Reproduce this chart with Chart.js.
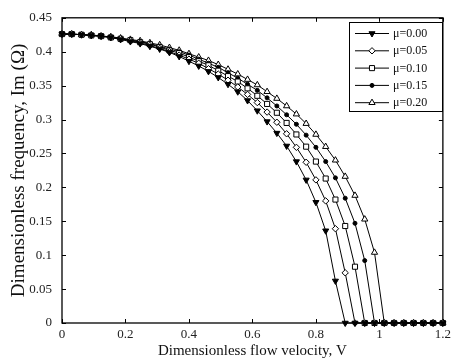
<!DOCTYPE html>
<html>
<head>
<meta charset="utf-8">
<script src="https://cdn.jsdelivr.net/npm/chart.js"></script>
<style>
  html, body { margin: 0; padding: 0; background: #fff; }
  canvas { display: block; }
</style>
</head>
<body>
<canvas id="chart" width="455" height="362"></canvas>
<script>
// flow velocity grid (40 points from 0 to 1.2)
const velocity = [0, 0.0308, 0.0615, 0.0923, 0.1231, 0.1538, 0.1846, 0.2154, 0.2462, 0.2769,
  0.3077, 0.3385, 0.3692, 0.4, 0.4308, 0.4615, 0.4923, 0.5231, 0.5538, 0.5846,
  0.6154, 0.6462, 0.6769, 0.7077, 0.7385, 0.7692, 0.8, 0.8308, 0.8615, 0.8923,
  0.9231, 0.9538, 0.9846, 1.0154, 1.0462, 1.0769, 1.1077, 1.1385, 1.1692, 1.2];

const mu000 = [0.426, 0.426, 0.425, 0.424, 0.423, 0.421, 0.418, 0.415, 0.412, 0.408,
  0.404, 0.399, 0.393, 0.386, 0.379, 0.371, 0.362, 0.352, 0.341, 0.328,
  0.313, 0.297, 0.280, 0.261, 0.238, 0.211, 0.178, 0.136, 0.062, 0,
  0, 0, 0, 0, 0, 0, 0, 0, 0, 0];
const mu005 = [0.426, 0.426, 0.425, 0.424, 0.423, 0.421, 0.419, 0.416, 0.413, 0.409,
  0.405, 0.400, 0.395, 0.389, 0.383, 0.375, 0.367, 0.358, 0.348, 0.337,
  0.325, 0.311, 0.296, 0.279, 0.259, 0.237, 0.211, 0.180, 0.139, 0.074,
  0, 0, 0, 0, 0, 0, 0, 0, 0, 0];
const mu010 = [0.426, 0.426, 0.425, 0.424, 0.423, 0.421, 0.419, 0.417, 0.414, 0.411,
  0.407, 0.402, 0.398, 0.392, 0.386, 0.380, 0.372, 0.364, 0.356, 0.346,
  0.335, 0.323, 0.310, 0.295, 0.278, 0.260, 0.238, 0.213, 0.182, 0.143,
  0.083, 0, 0, 0, 0, 0, 0, 0, 0, 0];
const mu015 = [0.426, 0.426, 0.425, 0.424, 0.423, 0.422, 0.420, 0.417, 0.415, 0.412,
  0.408, 0.404, 0.400, 0.395, 0.389, 0.383, 0.377, 0.369, 0.361, 0.352,
  0.343, 0.332, 0.320, 0.307, 0.293, 0.277, 0.259, 0.238, 0.214, 0.184,
  0.147, 0.092, 0, 0, 0, 0, 0, 0, 0, 0];
const mu020 = [0.426, 0.426, 0.425, 0.425, 0.423, 0.422, 0.420, 0.418, 0.416, 0.413,
  0.410, 0.406, 0.402, 0.397, 0.392, 0.387, 0.381, 0.374, 0.367, 0.359,
  0.351, 0.341, 0.331, 0.320, 0.308, 0.294, 0.278, 0.260, 0.240, 0.216,
  0.188, 0.153, 0.104, 0, 0, 0, 0, 0, 0, 0];

const seriesNames = ['\u03bc=0.00', '\u03bc=0.05', '\u03bc=0.10', '\u03bc=0.15', '\u03bc=0.20'];
const xTickLabels = ['0', '0.2', '0.4', '0.6', '0.8', '1', '1.2'];
const yTickLabels = ['0', '0.05', '0.1', '0.15', '0.2', '0.25', '0.3', '0.35', '0.4', '0.45'];

const FONT = "'Liberation Serif', 'Times New Roman', serif";

const toPoints = (arr) => arr.map((y, i) => ({ x: velocity[i], y: y }));

const markers = [
  { pointStyle: 'triangle', rotation: 180, radius: 3.5, fill: '#000' },
  { pointStyle: 'rectRot', rotation: 0, radius: 3.2, fill: '#fff' },
  { pointStyle: 'rect', rotation: 0, radius: 3.6, fill: '#fff' },
  { pointStyle: 'circle', rotation: 0, radius: 2, fill: '#000' },
  { pointStyle: 'triangle', rotation: 0, radius: 3.6, fill: '#fff' }
];

const seriesData = [mu000, mu005, mu010, mu015, mu020];

const datasets = seriesData.map((arr, i) => ({
  label: seriesNames[i],
  data: toPoints(arr),
  borderColor: '#000',
  borderWidth: 1,
  backgroundColor: markers[i].fill,
  pointStyle: markers[i].pointStyle,
  pointRotation: markers[i].rotation,
  pointRadius: markers[i].radius,
  pointBackgroundColor: markers[i].fill,
  pointBorderColor: '#000',
  pointBorderWidth: 1,
  tension: 0,
  clip: false
}));

// box around the plot and inward ticks on all four sides
const boxPlugin = {
  id: 'box',
  beforeDatasetsDraw(chart) {
    const { ctx, chartArea: a } = chart;
    const xs = chart.scales.x, ys = chart.scales.y;
    ctx.save();
    ctx.strokeStyle = '#000';
    ctx.lineWidth = 1.3;
    ctx.strokeRect(a.left, a.top, a.right - a.left, a.bottom - a.top);
    ctx.lineWidth = 1;
    ctx.beginPath();
    xs.ticks.forEach(t => {
      const px = Math.round(xs.getPixelForValue(t.value)) + 0.5;
      ctx.moveTo(px, a.bottom); ctx.lineTo(px, a.bottom - 4);
      ctx.moveTo(px, a.top); ctx.lineTo(px, a.top + 4);
    });
    ys.ticks.forEach(t => {
      const py = Math.round(ys.getPixelForValue(t.value)) + 0.5;
      ctx.moveTo(a.left, py); ctx.lineTo(a.left + 4, py);
      ctx.moveTo(a.right, py); ctx.lineTo(a.right - 4, py);
    });
    ctx.stroke();
    ctx.restore();
  }
};

// legend box in the upper right corner of the plot
const legendPlugin = {
  id: 'boxLegend',
  afterDatasetsDraw(chart) {
    const { ctx } = chart;
    const left = 349, top = 22, w = 93, h = 89;
    ctx.save();
    ctx.fillStyle = '#fff';
    ctx.fillRect(left, top, w, h);
    ctx.strokeStyle = '#000';
    ctx.lineWidth = 1;
    ctx.strokeRect(left + 0.5, top + 0.5, w, h);
    chart.data.datasets.forEach((ds, i) => {
      const y = top + 11.5 + i * 17.3;
      ctx.strokeStyle = '#000';
      ctx.lineWidth = 1;
      ctx.beginPath();
      ctx.moveTo(left + 6, y);
      ctx.lineTo(left + 40, y);
      ctx.stroke();
      ctx.fillStyle = ds.pointBackgroundColor;
      Chart.helpers.drawPoint(ctx, {
        pointStyle: ds.pointStyle,
        rotation: ds.pointRotation,
        radius: ds.pointRadius,
        borderWidth: 1
      }, left + 23, y);
      ctx.fillStyle = '#111';
      ctx.font = '12px ' + FONT;
      ctx.textBaseline = 'middle';
      ctx.textAlign = 'left';
      ctx.fillText(ds.label, left + 44, y + 0.5);
    });
    ctx.restore();
  }
};

const ctx = document.querySelector('#chart').getContext('2d');
const chart = new Chart(ctx, {
  type: 'line',
  data: { datasets: datasets },
  options: {
    responsive: false,
    devicePixelRatio: 1,
    animation: false,
    layout: { padding: { top: 14, right: 8, left: 0, bottom: 0 } },
    plugins: {
      legend: { display: false },
      tooltip: { enabled: false }
    },
    scales: {
      x: {
        type: 'linear',
        min: 0,
        max: 1.2,
        afterFit: (scale) => { scale.height = 39; },
        grid: { display: false, drawTicks: false },
        border: { display: false },
        ticks: {
          stepSize: 0.2,
          padding: 4,
          color: '#222',
          font: { family: FONT, size: 13 },
          maxRotation: 0,
          callback: (v, i) => xTickLabels[i]
        },
        title: {
          display: true,
          text: 'Dimensionless flow velocity, V',
          color: '#111',
          font: { family: FONT, size: 15 },
          padding: { top: 0, bottom: 2 }
        }
      },
      y: {
        type: 'linear',
        min: 0,
        max: 0.45,
        afterFit: (scale) => { scale.width = 62; },
        grid: { display: false, drawTicks: false },
        border: { display: false },
        ticks: {
          stepSize: 0.05,
          padding: 10,
          color: '#222',
          font: { family: FONT, size: 13 },
          callback: (v, i) => yTickLabels[i]
        },
        title: {
          display: true,
          text: 'Dimensionless frequency, Im (\u03a9)',
          color: '#111',
          font: { family: FONT, size: 19 },
          padding: { top: 8, bottom: 0 }
        }
      }
    }
  },
  plugins: [boxPlugin, legendPlugin]
});
</script>
</body>
</html>
